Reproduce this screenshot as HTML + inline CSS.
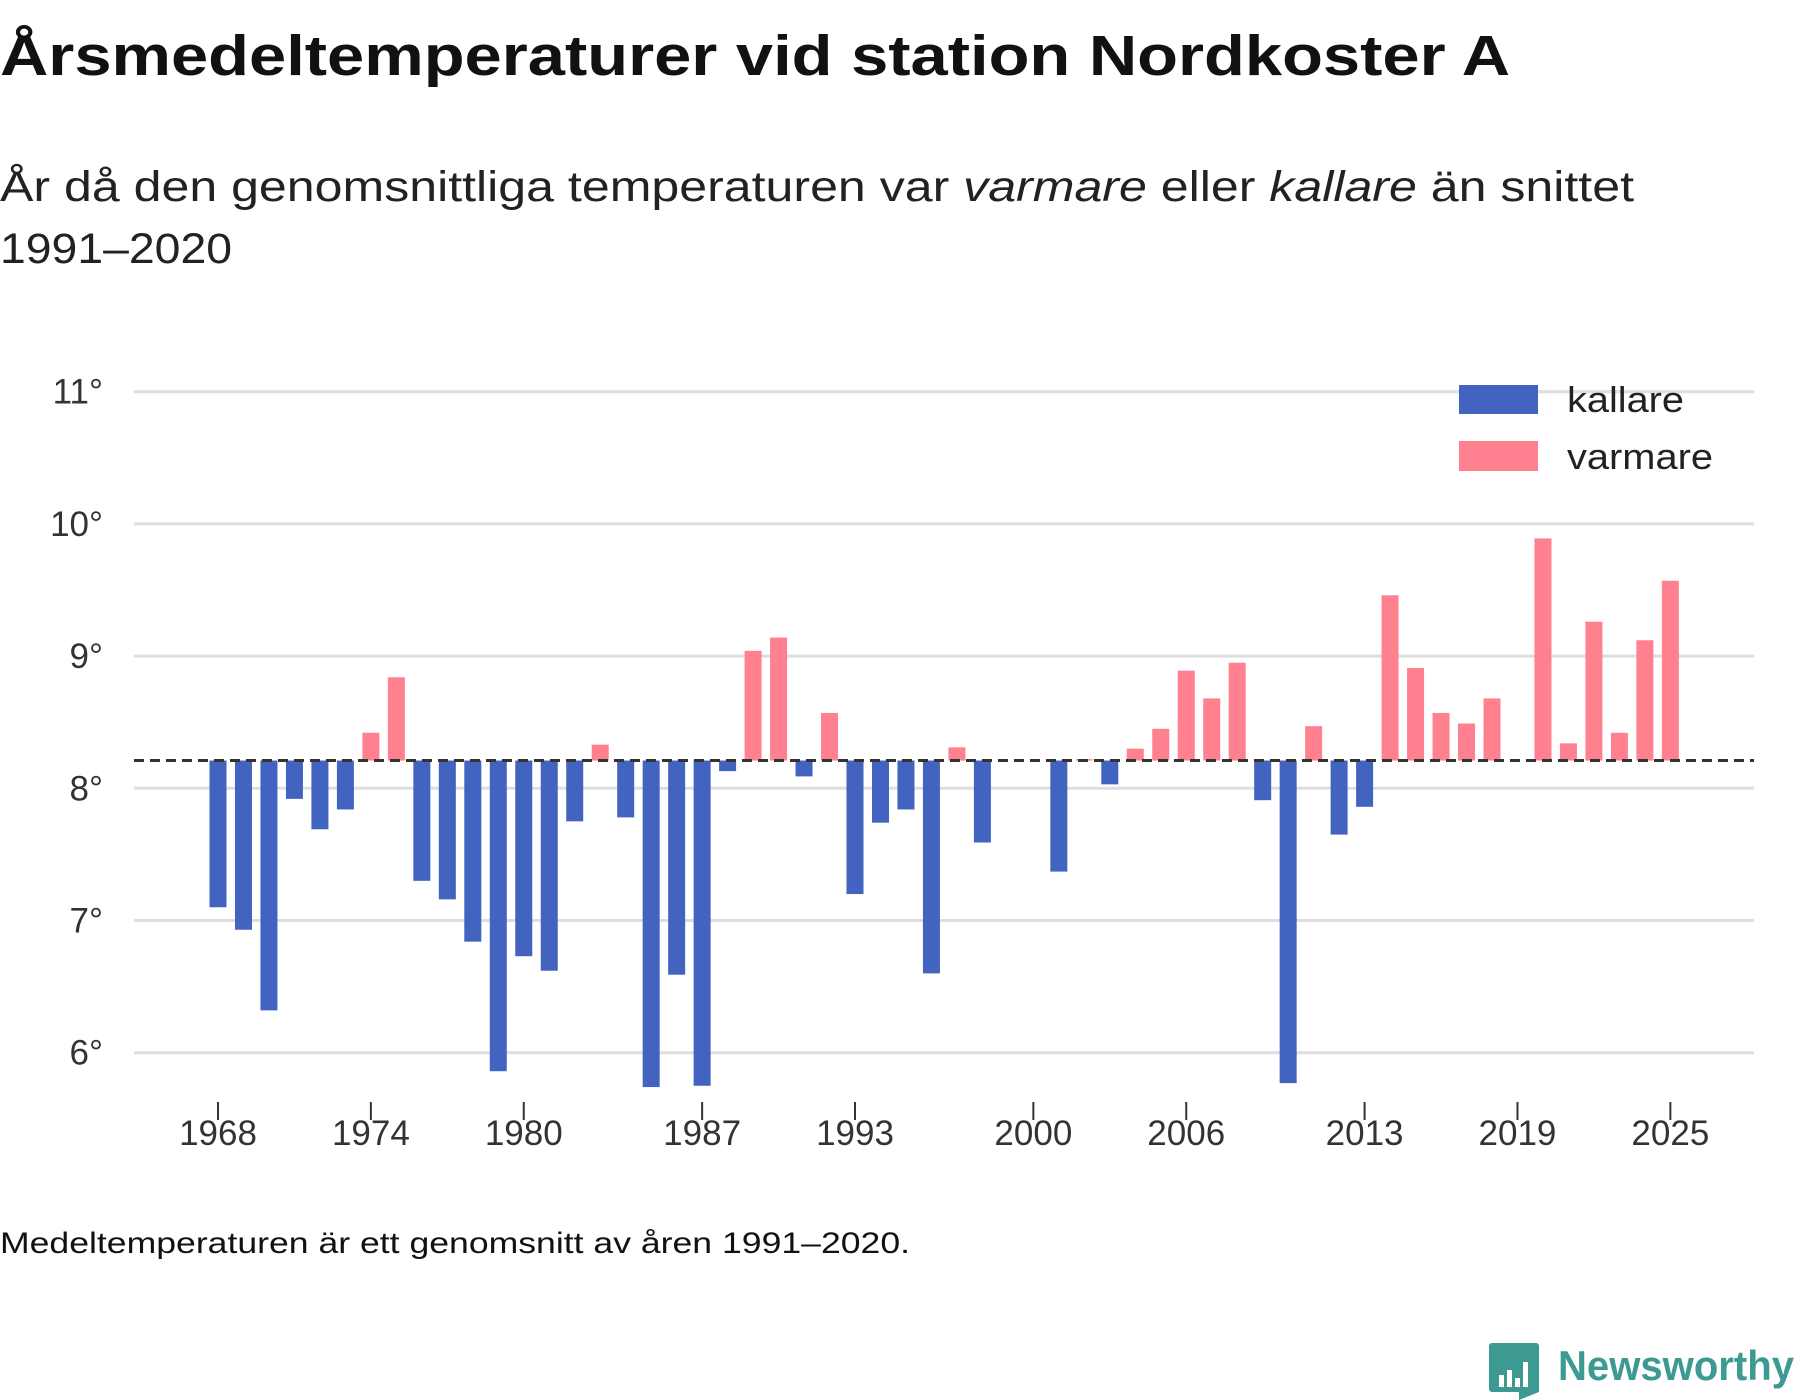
<!DOCTYPE html>
<html><head><meta charset="utf-8"><style>
html,body{margin:0;padding:0;background:#fff;}
svg{display:block;font-family:"Liberation Sans",sans-serif;}
</style></head><body>
<svg id="chart" width="1800" height="1400" viewBox="0 0 1800 1400">
<text x="0" y="75" font-size="57" font-weight="bold" fill="#111" textLength="1510" lengthAdjust="spacingAndGlyphs">Årsmedeltemperaturer vid station Nordkoster A</text>
<text x="0" y="201" font-size="43" fill="#222" textLength="1634" lengthAdjust="spacingAndGlyphs">År då den genomsnittliga temperaturen var <tspan font-style="italic">varmare</tspan> eller <tspan font-style="italic">kallare</tspan> än snittet</text>
<text x="0" y="263" font-size="43" fill="#222" textLength="232" lengthAdjust="spacingAndGlyphs">1991–2020</text>
<g id="grid"></g><g id="bars"></g><g id="xaxis"></g>
<g>
<rect x="1459" y="385" width="79" height="29" fill="#4263c0"/>
<text x="1567" y="412" font-size="36" fill="#222" textLength="117" lengthAdjust="spacingAndGlyphs">kallare</text>
<rect x="1459" y="441" width="79" height="30" fill="#ff808e"/>
<text x="1567" y="469" font-size="36" fill="#222" textLength="146" lengthAdjust="spacingAndGlyphs">varmare</text>
</g>
<text x="0" y="1253" font-size="30" fill="#111" textLength="910" lengthAdjust="spacingAndGlyphs">Medeltemperaturen är ett genomsnitt av åren 1991–2020.</text>
<g>
<path d="M1492 1343 h44 a3 3 0 0 1 3 3 v46 l-20 8 v-8 h-27 a3 3 0 0 1 -3 -3 v-43 a3 3 0 0 1 3 -3z" fill="#3d9a92"/>
<rect x="1499" y="1375" width="5" height="12" fill="#fff"/><rect x="1507" y="1370" width="5" height="17" fill="#fff"/><rect x="1515" y="1378" width="5" height="9" fill="#fff"/><rect x="1523" y="1362" width="5" height="25" fill="#fff"/>
<text x="1558" y="1380" font-size="42" font-weight="bold" fill="#3d9a92" textLength="236" lengthAdjust="spacingAndGlyphs">Newsworthy</text>
</g>
</svg>
<script>
const years=[1968,1969,1970,1971,1972,1973,1974,1975,1976,1977,1978,1979,1980,1981,1982,1983,1984,1985,1986,1987,1988,1989,1990,1991,1992,1993,1994,1995,1996,1997,1998,2001,2002,2003,2004,2005,2006,2007,2008,2009,2010,2011,2012,2013,2014,2015,2016,2017,2018,2020,2021,2022,2023,2024,2025];
const temps=[7.10,6.93,6.32,7.92,7.69,7.84,8.42,8.84,7.30,7.16,6.84,5.86,6.73,6.62,7.75,8.33,7.78,5.74,6.59,5.75,8.13,9.04,9.14,8.09,8.57,7.20,7.74,7.84,6.60,8.31,7.59,7.37,8.22,8.03,8.30,8.45,8.89,8.68,8.95,7.91,5.77,8.47,7.65,7.86,9.46,8.91,8.57,8.49,8.68,9.89,8.34,9.26,8.42,9.12,9.57];
const mean=8.21;
const yTicks=[6,7,8,9,10,11];
const xTicks=[1968,1974,1980,1987,1993,2000,2006,2013,2019,2025];
const NS="http://www.w3.org/2000/svg";
const x=yr=>218+(yr-1968)*25.48;
const y=v=>1052.7-(v-6)*132.2;
function mk(tag,attrs,parent){const e=document.createElementNS(NS,tag);for(const k in attrs)e.setAttribute(k,attrs[k]);parent.appendChild(e);return e;}
const grid=document.getElementById('grid'),bars=document.getElementById('bars'),xa=document.getElementById('xaxis');
yTicks.forEach(t=>{
 const l=mk('line',{x1:134,x2:1754,y1:y(t),y2:y(t),stroke:'#dedede','stroke-width':3},grid);
 
 
 const tx=mk('text',{x:103,y:y(t)+12,'font-size':35,fill:'#333','text-anchor':'end'},grid);
 tx.textContent=t+'°';
 
 
});
years.forEach((yr,i)=>{
 const v=temps[i];const top=y(Math.max(v,mean)),bot=y(Math.min(v,mean));
 const r=mk('rect',{x:x(yr)-8.5,y:top,width:17,height:Math.max(bot-top,1),fill:v>=mean?'#ff808e':'#4263c0'},bars);
 
 
});
const ml=mk('line',{x1:134,x2:1754,y1:y(mean),y2:y(mean),stroke:'#333','stroke-width':3,'stroke-dasharray':'10,6'},bars);


xTicks.forEach(t=>{
 const l=mk('line',{x1:x(t),x2:x(t),y1:1102,y2:1120,stroke:'#333','stroke-width':2},xa);
 
 
 const tx=mk('text',{x:x(t),y:1145,'font-size':35,fill:'#333','text-anchor':'middle'},xa);
 tx.textContent=t;
 
 
});
</script>
</body></html>
